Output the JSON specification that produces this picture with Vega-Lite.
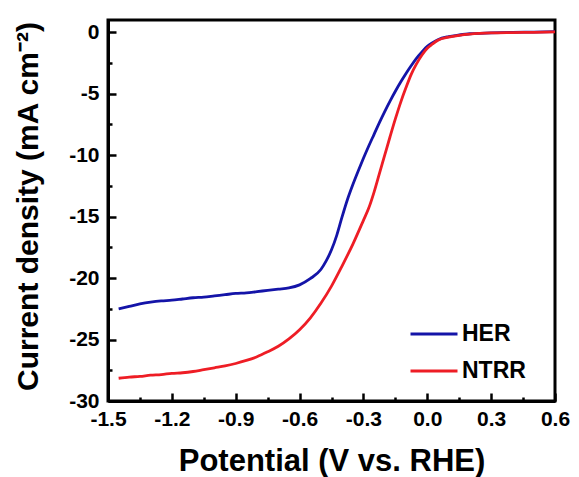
{
  "$schema": "https://vega.github.io/schema/vega-lite/v6.json",
  "width": 447,
  "height": 381,
  "autosize": {"type": "none"},
  "padding": {"left": 108, "top": 20, "right": 24, "bottom": 76},
  "background": "white",
  "config": {
    "view": {"stroke": "black", "strokeWidth": 3},
    "font": "Liberation Sans",
    "axis": {
      "domainColor": "black", "domainWidth": 3, "tickColor": "black", "tickWidth": 2.5,
      "labelFont": "Liberation Sans", "labelFontWeight": "bold", "labelFontSize": 21, "labelColor": "black",
      "titleFont": "Liberation Sans", "titleFontWeight": "bold", "titleColor": "black", "grid": false
    }
  },
  "data": {"values": [
    {"V": -1.45, "J": -22.5, "s": "HER"}, {"V": -1.4, "J": -22.3, "s": "HER"}, {"V": -1.35, "J": -22.1, "s": "HER"},
    {"V": -1.3, "J": -21.95, "s": "HER"}, {"V": -1.25, "J": -21.85, "s": "HER"}, {"V": -1.2, "J": -21.8, "s": "HER"},
    {"V": -1.15, "J": -21.7, "s": "HER"}, {"V": -1.1, "J": -21.6, "s": "HER"}, {"V": -1.05, "J": -21.55, "s": "HER"},
    {"V": -1.0, "J": -21.45, "s": "HER"}, {"V": -0.95, "J": -21.35, "s": "HER"}, {"V": -0.9, "J": -21.25, "s": "HER"},
    {"V": -0.85, "J": -21.2, "s": "HER"}, {"V": -0.8, "J": -21.1, "s": "HER"}, {"V": -0.75, "J": -21.0, "s": "HER"},
    {"V": -0.7, "J": -20.9, "s": "HER"}, {"V": -0.65, "J": -20.8, "s": "HER"}, {"V": -0.6, "J": -20.55, "s": "HER"},
    {"V": -0.55, "J": -20.05, "s": "HER"}, {"V": -0.5, "J": -19.3, "s": "HER"}, {"V": -0.475, "J": -18.6, "s": "HER"},
    {"V": -0.45, "J": -17.7, "s": "HER"}, {"V": -0.425, "J": -16.5, "s": "HER"}, {"V": -0.4, "J": -15.0, "s": "HER"},
    {"V": -0.375, "J": -13.6, "s": "HER"}, {"V": -0.35, "J": -12.4, "s": "HER"}, {"V": -0.325, "J": -11.3, "s": "HER"},
    {"V": -0.3, "J": -10.25, "s": "HER"}, {"V": -0.275, "J": -9.25, "s": "HER"}, {"V": -0.25, "J": -8.3, "s": "HER"},
    {"V": -0.225, "J": -7.35, "s": "HER"}, {"V": -0.2, "J": -6.45, "s": "HER"}, {"V": -0.175, "J": -5.6, "s": "HER"},
    {"V": -0.15, "J": -4.8, "s": "HER"}, {"V": -0.125, "J": -4.05, "s": "HER"}, {"V": -0.1, "J": -3.35, "s": "HER"},
    {"V": -0.075, "J": -2.7, "s": "HER"}, {"V": -0.05, "J": -2.1, "s": "HER"}, {"V": -0.025, "J": -1.6, "s": "HER"},
    {"V": 0.0, "J": -1.15, "s": "HER"}, {"V": 0.025, "J": -0.85, "s": "HER"}, {"V": 0.05, "J": -0.6, "s": "HER"},
    {"V": 0.1, "J": -0.35, "s": "HER"}, {"V": 0.15, "J": -0.22, "s": "HER"}, {"V": 0.2, "J": -0.12, "s": "HER"},
    {"V": 0.3, "J": -0.05, "s": "HER"}, {"V": 0.4, "J": 0.0, "s": "HER"}, {"V": 0.5, "J": 0.02, "s": "HER"},
    {"V": 0.6, "J": 0.05, "s": "HER"},
    {"V": -1.45, "J": -28.15, "s": "NTRR"}, {"V": -1.4, "J": -28.05, "s": "NTRR"}, {"V": -1.35, "J": -28.0, "s": "NTRR"},
    {"V": -1.3, "J": -27.9, "s": "NTRR"}, {"V": -1.25, "J": -27.85, "s": "NTRR"}, {"V": -1.2, "J": -27.75, "s": "NTRR"},
    {"V": -1.15, "J": -27.7, "s": "NTRR"}, {"V": -1.1, "J": -27.6, "s": "NTRR"}, {"V": -1.05, "J": -27.45, "s": "NTRR"},
    {"V": -1.0, "J": -27.3, "s": "NTRR"}, {"V": -0.95, "J": -27.15, "s": "NTRR"}, {"V": -0.9, "J": -26.95, "s": "NTRR"},
    {"V": -0.85, "J": -26.7, "s": "NTRR"}, {"V": -0.8, "J": -26.4, "s": "NTRR"}, {"V": -0.75, "J": -26.0, "s": "NTRR"},
    {"V": -0.7, "J": -25.55, "s": "NTRR"}, {"V": -0.65, "J": -24.95, "s": "NTRR"}, {"V": -0.6, "J": -24.2, "s": "NTRR"},
    {"V": -0.55, "J": -23.25, "s": "NTRR"}, {"V": -0.5, "J": -22.05, "s": "NTRR"}, {"V": -0.45, "J": -20.65, "s": "NTRR"},
    {"V": -0.4, "J": -19.0, "s": "NTRR"}, {"V": -0.35, "J": -17.25, "s": "NTRR"}, {"V": -0.3, "J": -15.3, "s": "NTRR"},
    {"V": -0.275, "J": -14.3, "s": "NTRR"}, {"V": -0.25, "J": -13.0, "s": "NTRR"}, {"V": -0.225, "J": -11.5, "s": "NTRR"},
    {"V": -0.2, "J": -10.0, "s": "NTRR"}, {"V": -0.175, "J": -8.5, "s": "NTRR"}, {"V": -0.15, "J": -7.05, "s": "NTRR"},
    {"V": -0.125, "J": -5.7, "s": "NTRR"}, {"V": -0.1, "J": -4.5, "s": "NTRR"}, {"V": -0.075, "J": -3.4, "s": "NTRR"},
    {"V": -0.05, "J": -2.55, "s": "NTRR"}, {"V": -0.025, "J": -1.85, "s": "NTRR"}, {"V": 0.0, "J": -1.3, "s": "NTRR"},
    {"V": 0.025, "J": -0.95, "s": "NTRR"}, {"V": 0.05, "J": -0.65, "s": "NTRR"}, {"V": 0.1, "J": -0.4, "s": "NTRR"},
    {"V": 0.15, "J": -0.25, "s": "NTRR"}, {"V": 0.2, "J": -0.15, "s": "NTRR"}, {"V": 0.3, "J": -0.05, "s": "NTRR"},
    {"V": 0.4, "J": -0.02, "s": "NTRR"}, {"V": 0.5, "J": 0.0, "s": "NTRR"}, {"V": 0.6, "J": 0.03, "s": "NTRR"}
  ]},
  "mark": {"type": "line", "strokeWidth": 2.8, "interpolate": "monotone"},
  "encoding": {
    "x": {
      "field": "V", "type": "quantitative",
      "scale": {"domain": [-1.5, 0.6], "nice": false, "zero": false},
      "axis": {
        "title": "Potential (V vs. RHE)", "titleFontSize": 31, "titleY": 69, "titleBaseline": "alphabetic",
        "values": [-1.5, -1.35, -1.2, -1.05, -0.9, -0.75, -0.6, -0.45, -0.3, -0.15, 0, 0.15, 0.3, 0.45, 0.6],
        "labelExpr": "abs(round(datum.value/0.15)) % 2 == 0 ? (datum.value < -0.001 ? '-' : '') + format(abs(datum.value), '.1f') : ''",
        "tickSize": {"condition": {"test": "abs(round(datum.value/0.15)) % 2 == 0", "value": -8}, "value": -4},
        "labelPadding": 15, "labelFlush": false
      }
    },
    "y": {
      "field": "J", "type": "quantitative",
      "scale": {"domain": [-30, 1], "nice": false, "zero": false},
      "axis": {
        "title": "Current density (mA cm⁻²)", "titleFontSize": 30,
        "titleX": -80, "titleY": 186, "titleAlign": "center", "titleBaseline": "middle", "titleAngle": -90,
        "values": [-30, -27.5, -25, -22.5, -20, -17.5, -15, -12.5, -10, -7.5, -5, -2.5, 0],
        "labelExpr": "datum.value % 5 == 0 ? (datum.value < 0 ? '-' : '') + format(abs(datum.value), 'd') : ''",
        "tickSize": {"condition": {"test": "datum.value % 5 == 0", "value": -8}, "value": -4},
        "labelPadding": 17
      }
    },
    "color": {
      "field": "s", "type": "nominal",
      "scale": {"domain": ["HER", "NTRR"], "range": ["#1414a8", "#ee1d25"]},
      "legend": {
        "title": null, "orient": "none", "legendX": 301, "legendY": 289,
        "symbolType": "stroke", "symbolSize": 2209, "symbolStrokeWidth": 3,
        "labelFont": "Liberation Sans", "labelFontSize": 23, "labelFontWeight": "bold", "labelColor": "black",
        "rowPadding": -14, "labelOffset": 3
      }
    }
  }
}
